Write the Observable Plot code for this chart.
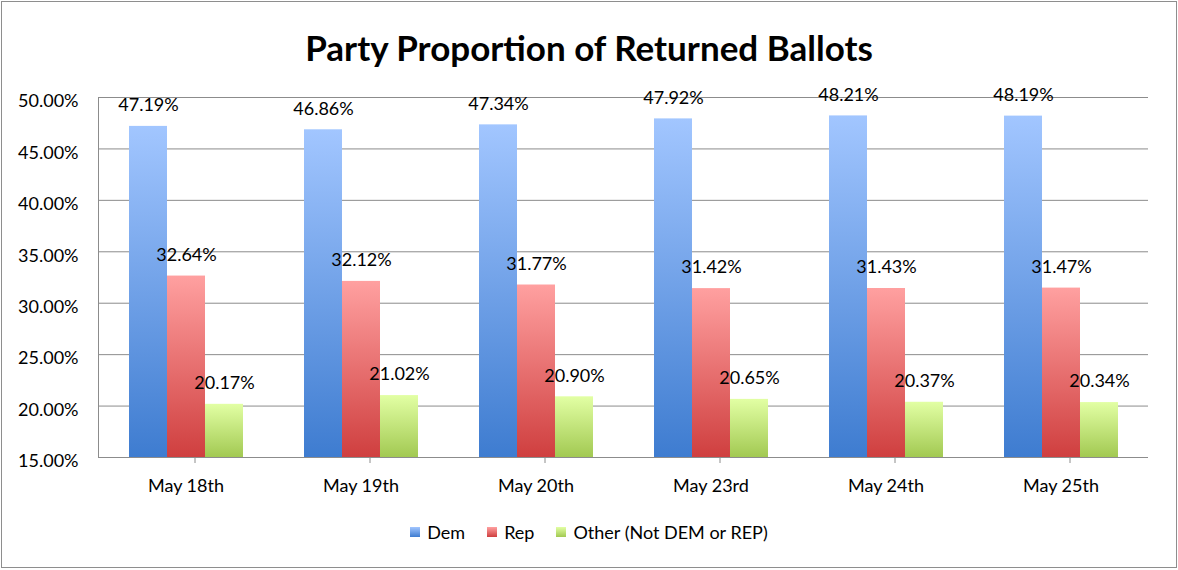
<!DOCTYPE html>
<html>
<head>
<meta charset="utf-8">
<script src="https://cdn.jsdelivr.net/npm/d3@7"></script>
<script src="https://cdn.jsdelivr.net/npm/@observablehq/plot@0.6"></script>
<style>
  html, body { margin: 0; padding: 0; background: #fff; }
  #wrap { position: relative; width: 1178px; height: 570px; font-family: Lato, "Open Sans", sans-serif; color: #000; overflow: hidden; background: #fff; }
  #border { position: absolute; left: 1px; top: 1px; width: 1174px; height: 565px; border: 1px solid #8e8e8e; z-index: 5; pointer-events: none; }
  #title { position: absolute; top: 27px; left: 0; width: 1178px; text-align: center; font-weight: 700; font-size: 35px; line-height: 40px; }
  #chart { position: absolute; top: 70px; left: 0; }
  #legend { position: absolute; top: 520px; left: 0; width: 1178px; display: flex; justify-content: center; align-items: center; font-size: 18px; line-height: 24px; }
  .item { display: flex; align-items: center; margin: 0 11px; }
  .sw { width: 10px; height: 10px; margin-right: 7px; }
</style>
</head>
<body>
<div id="wrap">
  <div id="title">Party Proportion of Returned Ballots</div>
  <div id="chart"></div>
  <div id="legend"></div>
  <div id="border"></div>
</div>
<script>
const dates = ["May 18th", "May 19th", "May 20th", "May 23rd", "May 24th", "May 25th"];
const dem   = [47.19, 46.86, 47.34, 47.92, 48.21, 48.19];
const rep   = [32.64, 32.12, 31.77, 31.42, 31.43, 31.47];
const other = [20.17, 21.02, 20.90, 20.65, 20.37, 20.34];
const seriesKeys  = ["Dem", "Rep", "Other"];
const seriesNames = ["Dem", "Rep", "Other (Not DEM or REP)"];
const yTicks = [15, 20, 25, 30, 35, 40, 45, 50];

const gradients = {
  Dem:   ["#a2c6ff", "#3e7cd0"],
  Rep:   ["#ffa0a0", "#cf3f3f"],
  Other: ["#e2ffa4", "#a2c952"]
};

const seriesValues = { Dem: dem, Rep: rep, Other: other };
const rows = [];
dates.forEach((d, i) => seriesKeys.forEach(s => rows.push({ date: d, series: s, value: seriesValues[s][i] })));

const yMin = yTicks[0];
const W = 1178, H = 440;

const barMarks = seriesKeys.map(s =>
  Plot.barY(rows.filter(r => r.series === s), {
    fx: "date", x: "series", y1: yMin, y2: "value", fill: `url(#grad-${s})`
  })
);

const chart = Plot.plot({
  width: W,
  height: H,
  marginTop: 27,
  marginBottom: 53,
  marginLeft: 97,
  marginRight: 30,
  style: { fontFamily: "Lato, 'Open Sans', sans-serif", fontSize: "18px", color: "#000", background: "transparent" },
  fx: { domain: dates, padding: 0, label: null },
  x: { domain: seriesKeys, paddingInner: 0, paddingOuter: 0.744, axis: null },
  y: { domain: [yTicks[0], yTicks[yTicks.length - 1]], ticks: yTicks, label: null },
  marks: [
    Plot.gridY(yTicks, { stroke: "#8c8c8c", strokeOpacity: 1 }),
    Plot.frame({ anchor: "left", stroke: "#8c8c8c", facetAnchor: "left" }),
    ...barMarks,
    Plot.text(rows, {
      fx: "date", x: "series", y: "value", dy: -21,
      text: d => d.value.toFixed(2) + "%", fontSize: 18, fill: "#000"
    }),
    Plot.axisY(yTicks, {
      tickSize: 0, tickPadding: 20, dy: 4, fontSize: 18, fill: "#000",
      tickFormat: d => d.toFixed(2) + "%", label: null
    }),
    Plot.axisFx({ anchor: "bottom", tickSize: 0, tickPadding: 22, fontSize: 18, fill: "#000", label: null })
  ]
});

// gradient definitions for bars
const svg = d3.select(chart.tagName.toLowerCase() === "svg" ? chart : chart.querySelector("svg"));
const defs = svg.insert("defs", ":first-child");
seriesKeys.forEach(s => {
  const g = defs.append("linearGradient").attr("id", `grad-${s}`)
    .attr("x1", 0).attr("y1", 0).attr("x2", 0).attr("y2", 1);
  g.append("stop").attr("offset", "0%").attr("stop-color", gradients[s][0]);
  g.append("stop").attr("offset", "100%").attr("stop-color", gradients[s][1]);
});

// category separator ticks below the baseline, placed with the fx scale
const fx = chart.scale("fx");
const ys = chart.scale("y");
const y0 = ys.apply(yMin);
const bounds = dates.map(d => fx.apply(d)).concat([fx.apply(dates[dates.length - 1]) + fx.bandwidth]);
svg.append("g").selectAll("line").data(bounds).join("line")
  .attr("x1", d => d + 97).attr("x2", d => d + 97)
  .attr("y1", y0).attr("y2", y0 + 6)
  .attr("stroke", "#8c8c8c");

document.getElementById("chart").appendChild(chart);

// legend
const legend = d3.select("#legend");
seriesKeys.forEach((s, i) => {
  const item = legend.append("div").attr("class", "item");
  item.append("div").attr("class", "sw")
    .style("background", `linear-gradient(${gradients[s][0]}, ${gradients[s][1]})`);
  item.append("span").text(seriesNames[i]);
});
</script>
</body>
</html>
